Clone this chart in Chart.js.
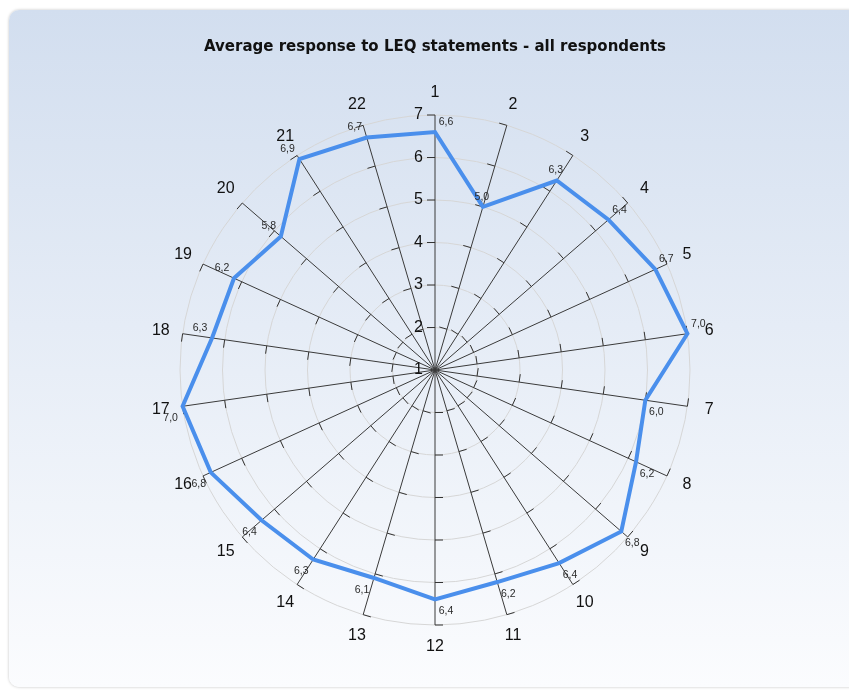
<!DOCTYPE html>
<html>
<head>
<meta charset="utf-8">
<script src="https://cdn.jsdelivr.net/npm/chart.js@4.4.1/dist/chart.umd.min.js"></script>
<style>
  html, body { margin: 0; padding: 0; background: #fff; }
  #wrap { position: relative; width: 849px; height: 690px; overflow: hidden; }
  #panel {
    position: absolute; left: 9px; top: 10px; width: 870px; height: 677px;
    border-radius: 10px;
    background: linear-gradient(#d2deef, #fbfcfe);
    box-shadow: 0 0 3px rgba(0,0,0,0.25);
  }
  #chart { position: absolute; left: 0; top: 0; }
</style>
</head>
<body>
<div id="wrap">
  <div id="panel"></div>
  <canvas id="chart" width="849" height="690"></canvas>
</div>
<script>
// LEQ statement numbers (one spoke each)
const statements = ['1','2','3','4','5','6','7','8','9','10','11','12','13','14','15','16','17','18','19','20','21','22'];
// average response per statement
const avgResponse = [6.6, 5.0, 6.3, 6.4, 6.7, 7.0, 6.0, 6.2, 6.8, 6.4, 6.2, 6.4, 6.1, 6.3, 6.4, 6.8, 7.0, 6.3, 6.2, 5.8, 6.9, 6.7];
// radial scale ticks
const scaleTicks = [1, 2, 3, 4, 5, 6, 7];

// value labels sit centred above these spokes instead of off to the side
const centredLabels = [1, 2];

const fmt = v => v.toFixed(1).replace('.', ',');

const decor = {
  id: 'decor',
  beforeDatasetsDraw(chart) {
    const s = chart.scales.r;
    const ctx = chart.ctx;
    ctx.save();
    // small tick marks on every spoke
    ctx.strokeStyle = '#333';
    ctx.lineWidth = 1;
    statements.forEach((_, i) => {
      const a = s.getIndexAngle(i) - Math.PI / 2;
      const tx = Math.sin(a), ty = -Math.cos(a);
      scaleTicks.slice(1).forEach(v => {
        const p = s.getPointPosition(i, s.getDistanceFromCenterForValue(v));
        ctx.beginPath();
        ctx.moveTo(p.x, p.y);
        ctx.lineTo(p.x + tx * 8, p.y + ty * 8);
        ctx.stroke();
      });
    });
    // scale numbers along spoke 1
    ctx.fillStyle = '#111';
    ctx.font = '16px "Liberation Sans", Arial, sans-serif';
    ctx.textAlign = 'right';
    ctx.textBaseline = 'middle';
    scaleTicks.forEach(v => {
      const p = s.getPointPosition(0, s.getDistanceFromCenterForValue(v));
      ctx.fillText(String(v), p.x - 12, p.y);
    });
    // statement numbers round the outside
    ctx.textAlign = 'center';
    statements.forEach((lab, i) => {
      const p = s.getPointPosition(i, s.drawingArea + 22);
      ctx.fillText(lab, p.x, p.y);
    });
    ctx.restore();
  },
  afterDatasetsDraw(chart) {
    const s = chart.scales.r;
    const ctx = chart.ctx;
    ctx.save();
    ctx.fillStyle = '#2a2a2a';
    ctx.font = '10.5px "Liberation Sans", Arial, sans-serif';
    ctx.textAlign = 'center';
    ctx.textBaseline = 'middle';
    avgResponse.forEach((v, i) => {
      const p = s.getPointPosition(i, s.getDistanceFromCenterForValue(v));
      const right = p.x >= s.xCenter - 0.5;
      const upper = p.y <= s.yCenter + 0.5 || i === 0;
      let dx = right ? 11 : -12;
      if (centredLabels.includes(i)) dx = -1;
      const dy = upper ? -10 : 12;
      ctx.fillText(fmt(v), p.x + dx, p.y + dy);
    });
    ctx.restore();
  }
};

new Chart(document.getElementById('chart'), {
  type: 'radar',
  data: {
    labels: statements,
    datasets: [{
      data: avgResponse,
      borderColor: '#4a8fec',
      borderWidth: 4,
      pointRadius: 0,
      pointHoverRadius: 0,
      fill: false,
      tension: 0
    }]
  },
  options: {
    responsive: false,
    animation: false,
    layout: { padding: { top: 0, bottom: 65, left: 180, right: 159 } },
    plugins: {
      legend: { display: false },
      tooltip: { enabled: false },
      title: {
        display: true,
        text: 'Average response to LEQ statements - all respondents',
        color: '#111',
        font: { family: '"DejaVu Sans", sans-serif', size: 15, weight: 'bold', lineHeight: 1.2 },
        padding: { top: 38, bottom: 59 }
      }
    },
    scales: {
      r: {
        min: 1,
        max: 7,
        ticks: { display: false, stepSize: 1 },
        pointLabels: { display: false },
        grid: { circular: true, color: '#d6d6d6', lineWidth: 1 },
        angleLines: { color: '#3a3a3a', lineWidth: 1 }
      }
    }
  },
  plugins: [decor]
});
</script>
</body>
</html>
